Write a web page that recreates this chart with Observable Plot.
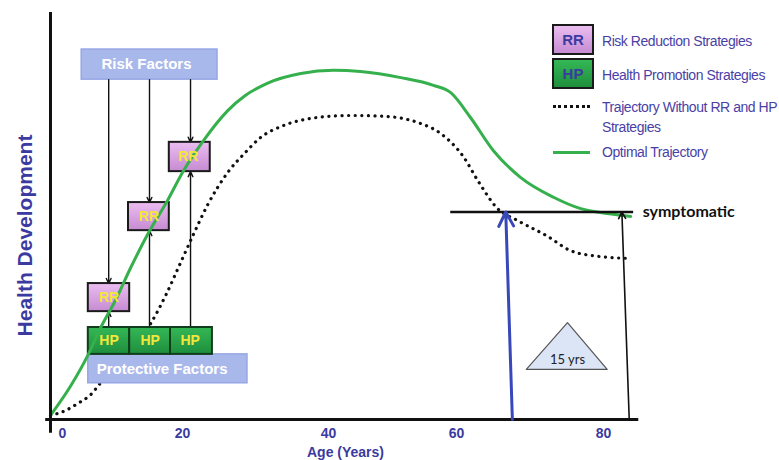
<!DOCTYPE html>
<html><head><meta charset="utf-8">
<script src="https://cdn.jsdelivr.net/npm/d3@7"></script>
<script src="https://cdn.jsdelivr.net/npm/@observablehq/plot@0.6"></script>
<style>
body{margin:0;background:#fff;}
#wrap{position:relative;width:779px;height:460px;overflow:hidden;}
.lg{position:absolute;font-family:"Liberation Sans",Arial,sans-serif;color:#4a3fa6;font-size:14px;letter-spacing:-0.45px;line-height:16px;white-space:nowrap;}
.sw{position:absolute;box-sizing:border-box;width:42px;height:31px;border:2px solid #1a1a1a;font:bold 15px "Liberation Sans",Arial,sans-serif;color:#3b3aa0;display:flex;align-items:center;justify-content:center;}
.ln{position:absolute;width:37px;}
</style></head><body><div id="wrap"></div>
<script>
// ---- data ----
const tickLabels = [0, 20, 40, 60, 80];
const optimalAge    = [-2, 1.3, 4.3, 6.3, 8.8, 11.3, 14.2, 17.5, 20, 22.9, 26.2, 28.6, 31.6, 36.2, 40.8, 45, 51.3, 56.4, 59.1, 61.9, 65, 68.7, 73.2, 76.9, 80.5, 83.7];
const optimalHealth = [1, 8.1, 16, 22.4, 29.2, 37.1, 45.5, 53.8, 60.7, 68.6, 75.9, 79.6, 82.6, 85, 85.8, 85.5, 84, 82.1, 80.3, 74.2, 66.1, 59.5, 54.6, 51.8, 50.6, 49.9];
const withoutAge    = [-2, 0.5, 2.5, 4.7, 6.3, 10.5, 14.7, 17.2, 19.7, 21.5, 23.4, 26.2, 28.6, 30.7, 33.8, 38.5, 43.4, 48.6, 53.9, 57.5, 61, 62.9, 65.6, 68.3, 72.4, 75.5, 79.2, 83.3];
const withoutHealth = [1, 2.2, 3.9, 6.1, 8.9, 15.7, 23.6, 30.5, 38.6, 45.5, 52.6, 60.7, 65.6, 69.3, 72.2, 74.2, 74.7, 74.5, 73, 70.3, 64.4, 58.7, 51.8, 48.9, 45, 41.5, 40.1, 39.6];
const axisAgeExtent = [-2.8, 84.8];
const axisHealthExtent = [-3.4, 100];
const yAxisAge = -2;
const symptomaticLevel = 51;
const symptomaticAgeExtent = [59.1, 84.1];
const onsetWithout = {baseAge: 67.6, tipAge: 66.7};
const onsetOptimal = {baseAge: 83.5, tipAge: 82.5};
const triangleAge = [69.5, 75.1, 80.5, 69.5];
const triangleHealth = [12.3, 23.8, 12.3, 12.3];
const gapLabel = {age: 75.1, health: 14.6, text: "15 yrs"};
const factorBoxes = [
  {label: "Risk Factors", x1: 3.2, x2: 24.8, y1: 83.5, y2: 90.9},
  {label: "Protective Factors", x1: 4.3, x2: 28.9, y1: 8.9, y2: 16}
];
const rrX1 = [4.3, 11, 17.8], rrX2 = [11.2, 17.8, 23.8];
const rrY1 = [26.5, 46.4, 60.9], rrY2 = [33.4, 53.3, 68.1];
const hpX1 = [4.3, 11.2, 18.0], hpX2 = [11.2, 18.0, 24.1];
const hpY1 = 16, hpY2 = 22.6;
const arrowAges = [7.7, 14.5, 21.1];
const legendLabels = ["Risk Reduction Strategies", "Health Promotion Strategies", "Trajectory Without RR and HP", "Strategies", "Optimal Trajectory"];

// ---- tables ----
const optimal = optimalAge.map((a, i) => ({age: a, health: optimalHealth[i]}));
const without = withoutAge.map((a, i) => ({age: a, health: withoutHealth[i]}));
const triangle = triangleAge.map((a, i) => ({age: a, health: triangleHealth[i]}));
const rr = rrX1.map((x1, i) => ({x1, x2: rrX2[i], y1: rrY1[i], y2: rrY2[i]}));
const hp = hpX1.map((x1, i) => ({x1, x2: hpX2[i], y1: hpY1, y2: hpY2}));
const downArrows = arrowAges.map((a, i) => ({x: a, y1: factorBoxes[0].y1, y2: rrY2[i]}));
const upArrows = arrowAges.map((a, i) => ({x: a, y1: hpY2, y2: rrY1[i]}));

const plot = Plot.plot({
  width: 779, height: 460,
  marginTop: 12, marginBottom: 41, marginLeft: 50, marginRight: 139,
  x: {type: "linear", domain: [0, 20, 40, 60, 80], range: [62, 182, 328, 456, 603]},
  y: {domain: [0, 100], axis: null},
  style: {fontFamily: "Liberation Sans, Arial, sans-serif", background: "white", overflow: "visible"},
  marks: [
    Plot.line(without, {x: "age", y: "health", stroke: "#111", strokeWidth: 3.2, strokeDasharray: "0.1,6.5", strokeLinecap: "round", curve: "monotone-x"}),
    Plot.rect(factorBoxes, {x1: "x1", x2: "x2", y1: "y1", y2: "y2", fill: "#a9b8ea", stroke: "#97a7e4", strokeWidth: 1.5}),
    Plot.arrow(downArrows, {x1: "x", x2: "x", y1: "y1", y2: "y2", stroke: "#111", strokeWidth: 1.4, headLength: 6, headAngle: 50}),
    Plot.arrow(upArrows, {x1: "x", x2: "x", y1: "y1", y2: "y2", stroke: "#111", strokeWidth: 1.4, headLength: 6, headAngle: 50}),
    Plot.rect(hp, {x1: "x1", x2: "x2", y1: "y1", y2: "y2", fill: "url(#hpGrad)", stroke: "#0f3d1a", strokeWidth: 2}),
    Plot.rect(rr, {x1: "x1", x2: "x2", y1: "y1", y2: "y2", fill: "url(#rrGrad)", stroke: "#1a1a1a", strokeWidth: 2}),
    Plot.line(optimal, {x: "age", y: "health", stroke: "#35b04d", strokeWidth: 3, curve: "monotone-x"}),
    Plot.text(factorBoxes, {x: d => (d.x1 + d.x2) / 2, y: d => (d.y1 + d.y2) / 2, text: "label", fill: "white", fontWeight: "bold", fontSize: 15}),
    Plot.text(rr, {x: d => (d.x1 + d.x2) / 2, y: d => (d.y1 + d.y2) / 2, text: () => "RR", fill: "#f3e63a", fontWeight: "bold", fontSize: 14}),
    Plot.text(hp, {x: d => (d.x1 + d.x2) / 2, y: d => (d.y1 + d.y2) / 2, text: () => "HP", fill: "#f3e63a", fontWeight: "bold", fontSize: 14}),
    // axes
    Plot.ruleY([0], {x1: axisAgeExtent[0], x2: axisAgeExtent[1], stroke: "#111", strokeWidth: 3}),
    Plot.ruleX([yAxisAge], {y1: axisHealthExtent[0], y2: axisHealthExtent[1], stroke: "#111", strokeWidth: 3}),
    Plot.axisX(tickLabels, {tickSize: 0, tickPadding: 9, fontSize: 14, fontWeight: "bold", color: "#3b3aa0", label: null}),
    Plot.text(["Age (Years)"], {frameAnchor: "bottom", lineAnchor: "middle", dy: 33, fontSize: 14, fontWeight: "bold", fill: "#3b3aa0"}),
    Plot.text(["Health Development"], {frameAnchor: "left", textAnchor: "middle", lineAnchor: "middle", rotate: -90, dx: -25, dy: 19.5, fontSize: 21, fontWeight: "bold", fill: "#3b3aa0"}),
    // symptomatic threshold
    Plot.ruleY([symptomaticLevel], {x1: symptomaticAgeExtent[0], x2: symptomaticAgeExtent[1], stroke: "#111", strokeWidth: 2.5}),
    Plot.text([symptomaticLevel], {x: symptomaticAgeExtent[1], y: d => d, text: () => "symptomatic", textAnchor: "start", dx: 9, fontSize: 16, fontWeight: "bold", fontFamily: "Lato", fill: "#111"}),
    Plot.arrow([onsetWithout], {x1: "baseAge", x2: "tipAge", y1: () => 0, y2: () => symptomaticLevel, stroke: "#3848b8", strokeWidth: 3, headLength: 8, headAngle: 55}),
    Plot.arrow([onsetOptimal], {x1: "baseAge", x2: "tipAge", y1: () => 0, y2: () => symptomaticLevel, stroke: "#111", strokeWidth: 1.6, headLength: 7, headAngle: 55}),
    Plot.line(triangle, {x: "age", y: "health", fill: "#dbe5f6", stroke: "#555", strokeWidth: 1.2}),
    Plot.text([gapLabel], {x: "age", y: "health", text: "text", fontSize: 13, fontFamily: "Lato", fill: "#222"})
  ]
});

// gradients for boxes
const defs = d3.select(plot).insert("defs", ":first-child");
const g1 = defs.append("linearGradient").attr("id", "rrGrad").attr("x1", 0).attr("y1", 0).attr("x2", 0).attr("y2", 1);
g1.append("stop").attr("offset", "0%").attr("stop-color", "#ebbdf0");
g1.append("stop").attr("offset", "100%").attr("stop-color", "#c68bd2");
const g2 = defs.append("linearGradient").attr("id", "hpGrad").attr("x1", 0).attr("y1", 0).attr("x2", 0).attr("y2", 1);
g2.append("stop").attr("offset", "0%").attr("stop-color", "#34b856");
g2.append("stop").attr("offset", "100%").attr("stop-color", "#1f8e3d");

const wrap = document.getElementById("wrap");
wrap.appendChild(plot);

// legend (HTML overlay)
function add(cls, css, html) {
  const d = document.createElement("div");
  d.className = cls; d.style.cssText = css; if (html) d.innerHTML = html;
  wrap.appendChild(d);
}
add("sw", "left:552px;top:24px;background:linear-gradient(#ebbdf0,#c68bd2);", "RR");
add("sw", "left:552px;top:58px;background:linear-gradient(#34b856,#1f8e3d);", "HP");
add("ln", "left:553px;top:105px;height:0;border-top:3px dotted #111;");
add("ln", "left:553px;top:151px;height:3px;background:#35b04d;");
add("lg", "left:602px;top:33px;", legendLabels[0]);
add("lg", "left:602px;top:67px;", legendLabels[1]);
add("lg", "left:602px;top:99px;", legendLabels[2]);
add("lg", "left:602px;top:119px;", legendLabels[3]);
add("lg", "left:602px;top:144px;", legendLabels[4]);
</script></body></html>
